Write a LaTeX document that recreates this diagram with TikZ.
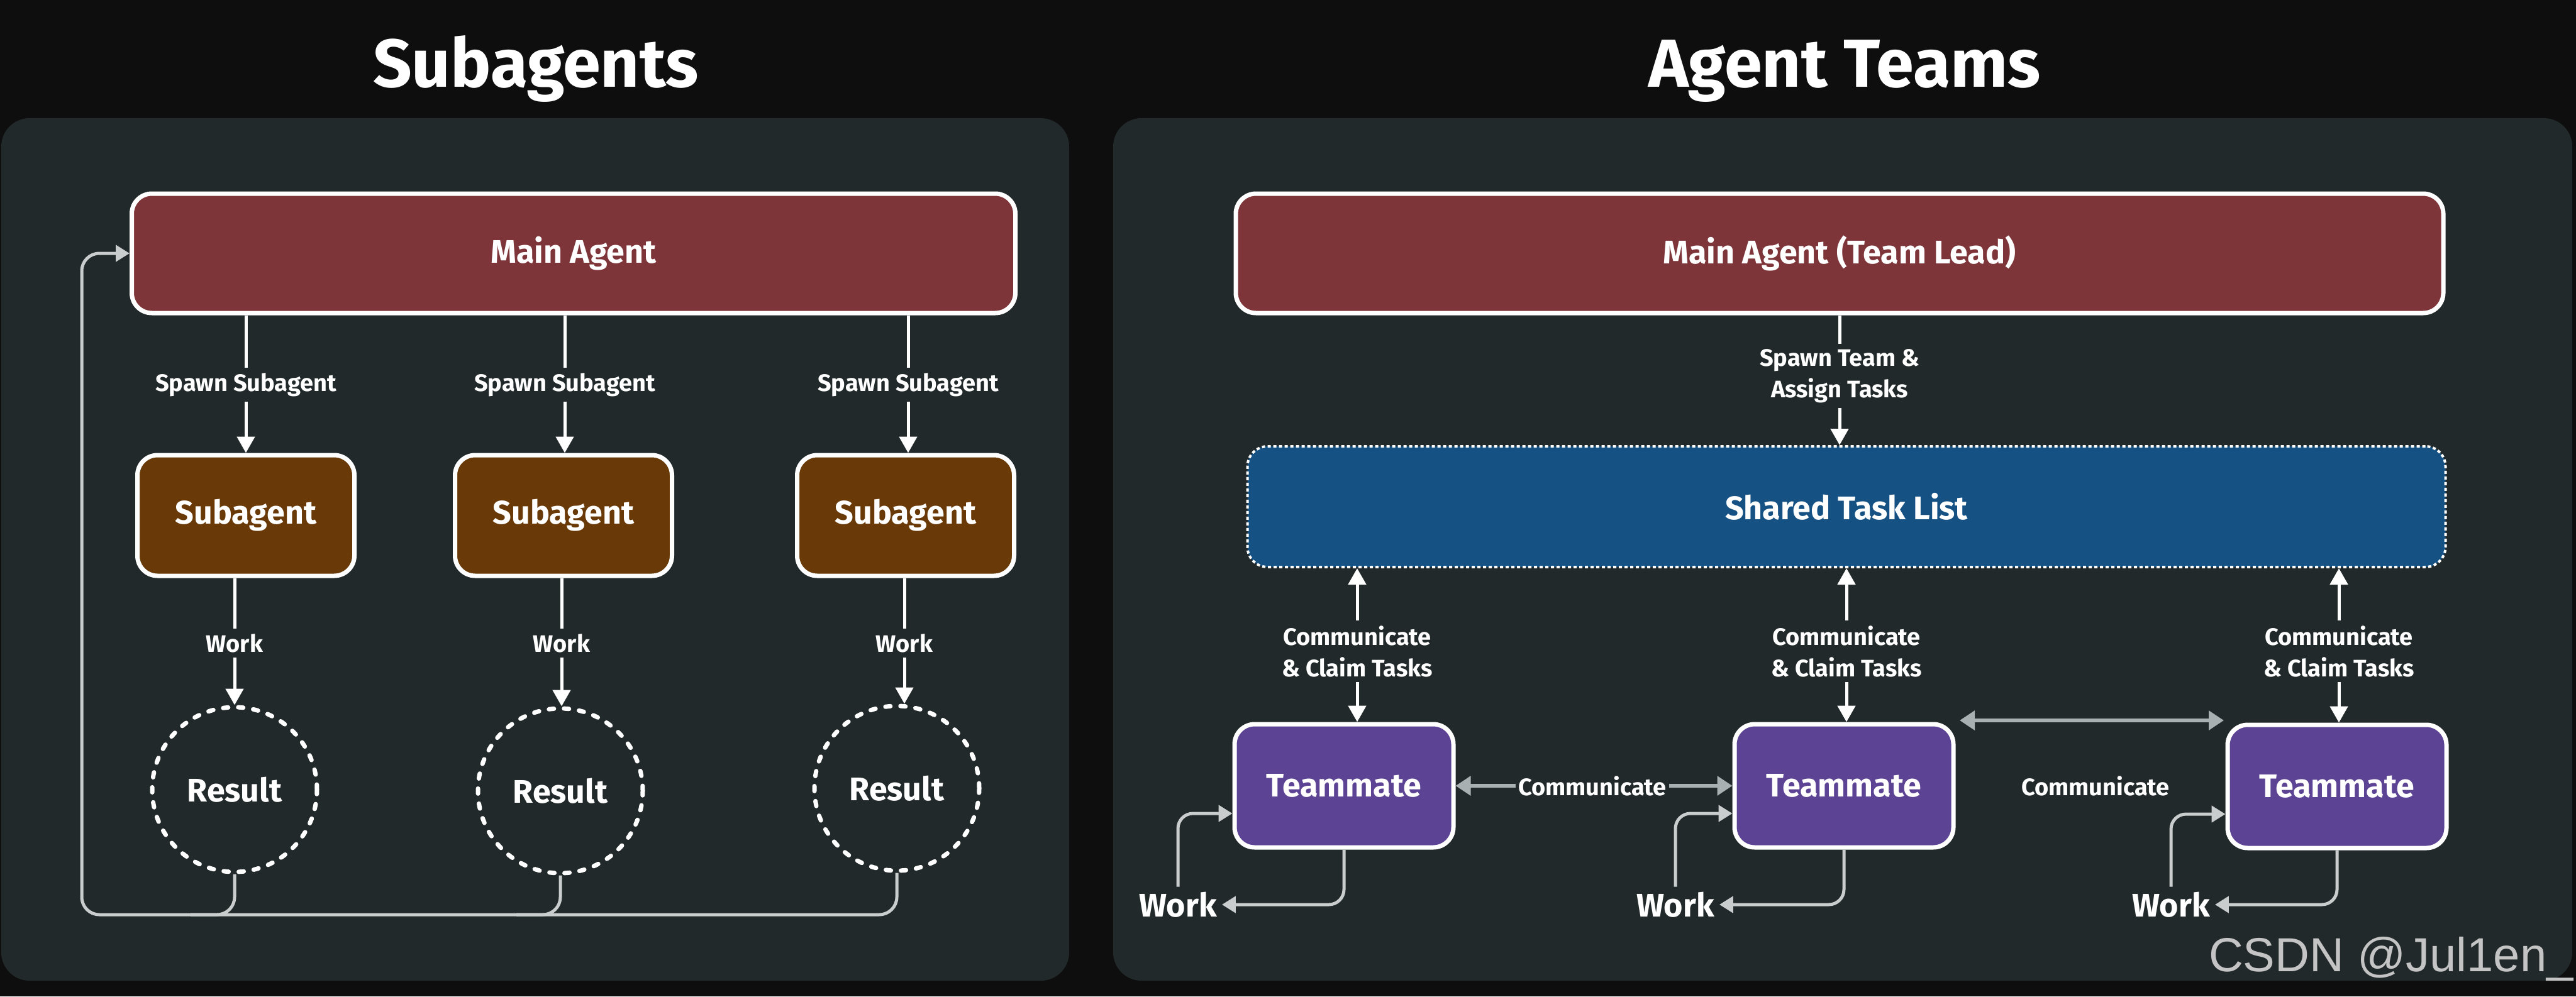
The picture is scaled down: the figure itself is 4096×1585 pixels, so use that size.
\documentclass[tikz,border=0pt]{standalone}
\usepackage{fontspec}
\setmainfont{Fira Sans}
\newfontfamily\wmfont{Liberation Sans}
\usetikzlibrary{arrows.meta,calc}
\definecolor{bgc}{HTML}{0E0E0E}
\definecolor{panelc}{HTML}{22292B}
\definecolor{redc}{HTML}{7E3539}
\definecolor{brownc}{HTML}{693A08}
\definecolor{bluec}{HTML}{155183}
\definecolor{purplec}{HTML}{5C4394}
\definecolor{loopc}{HTML}{C9CDCD}
\definecolor{commc}{HTML}{A8B0B2}
\definecolor{wmc}{HTML}{C4C4C4}
\tikzset{
  box/.style={draw=white, line width=7pt, rounded corners=32pt, text=white,
    font=\fontsize{52}{60}\selectfont\bfseries, inner sep=0pt},
  mainbox/.style={box, fill=redc, minimum height=190pt},
  subbox/.style={box, fill=brownc, minimum width=345pt, minimum height=192pt},
  tmbox/.style={box, fill=purplec, minimum width=348pt, minimum height=196pt},
  sharedbox/.style={box, fill=bluec, line width=4pt, dash pattern=on 5pt off 4pt,
    minimum width=1905pt, minimum height=192pt},
  resnode/.style={circle, draw=white, line width=7pt, line cap=round,
    dash pattern=on 8pt off 16pt, minimum size=262pt, inner sep=0pt, text=white,
    font=\fontsize{52}{60}\selectfont\bfseries},
  lab/.style={text=white, font=\fontsize{38}{50}\selectfont\bfseries, inner sep=8pt, align=center},
  wlab/.style={text=white, font=\fontsize{52}{60}\selectfont\bfseries, inner sep=8pt},
  ttl/.style={text=white, font=\fontsize{108}{120}\selectfont\bfseries, anchor=base, inner sep=0pt},
  conn/.style={draw=white, line width=5pt},
  arr/.style={conn, -{Triangle[length=26pt,width=28pt]}},
  fb/.style={draw=loopc, line width=5pt, rounded corners=28pt},
  gl/.style={draw=loopc, line width=5pt, rounded corners=24pt, -{Triangle[length=22pt,width=26pt]}},
  garr/.style={draw=commc, line width=6pt, -{Triangle[length=24pt,width=30pt]}},
  wm/.style={text=wmc, font=\wmfont\fontsize{76}{80}\selectfont, inner sep=0pt, anchor=base east},
}
\begin{document}
\begin{tikzpicture}[x=1pt,y=-1pt]
\useasboundingbox (0,0) rectangle (4096,1585);
\fill[bgc] (0,0) rectangle (4096,1585);
\fill[panelc, rounded corners=45pt] (2,188) rectangle (1700,1560);
\fill[panelc, rounded corners=45pt] (1770,188) rectangle (4090,1560);

% titles
\node[ttl] (tL) at (852,138) {Subagents};
\node[ttl] (tR) at (2933,138) {Agent Teams};

% ---------- Subagents ----------
\node[mainbox, minimum width=1405pt] (mainL) at (912,403) {Main Agent};
\node[subbox] (s1) at (391,820) {Subagent};
\node[subbox] (s2) at (896,820) {Subagent};
\node[subbox] (s3) at (1440,820) {Subagent};
\node[lab] (sp1) at (391,612) {Spawn Subagent};
\node[lab] (sp2) at (898,612) {Spawn Subagent};
\node[lab] (sp3) at (1444,612) {Spawn Subagent};
\node[resnode] (r1) at (373,1256) {Result};
\node[resnode] (r2) at (891,1258) {Result};
\node[resnode] (r3) at (1426,1254) {Result};
\node[lab] (wk1) at (373,1023) {Work};
\node[lab] (wk2) at (893,1023) {Work};
\node[lab] (wk3) at (1438,1023) {Work};

\foreach \i in {1,2,3}{
  \draw[conn] (mainL.south -| sp\i) -- (sp\i.north);
  \draw[arr] (sp\i.south) -- (sp\i.south |- s\i.north);
  \draw[conn] (s\i.south -| wk\i) -- (wk\i.north);
  \draw[arr] (wk\i.south) -- (wk\i.south |- r\i.north);
}
\coordinate (fbc) at (130,1455);
\coordinate (b1) at (r1.south |- fbc);
\coordinate (b2) at (r2.south |- fbc);
\draw[fb, -{Triangle[length=22pt,width=26pt]}] (r3.south) |- (fbc) |- (mainL.west);
\draw[fb] (r1.south) |- ($(b1)+(-70,0)$);
\draw[fb] (r2.south) |- ($(b2)+(-70,0)$);

% ---------- Agent Teams ----------
\node[mainbox, minimum width=1920pt] (mainR) at (2925,403) {Main Agent (Team Lead)};
\node[sharedbox] (shared) at (2936,806) {Shared Task List};
\node[lab] (spT) at (2925,598) {Spawn Team \&\\Assign Tasks};
\draw[conn] (mainR.south -| spT) -- (spT.north);
\draw[arr] (spT.south) -- (spT.south |- shared.north);

\node[tmbox] (t1) at (2137,1250) {Teammate};
\node[tmbox] (t2) at (2932,1250) {Teammate};
\node[tmbox] (t3) at (3716,1251) {Teammate};
\node[lab] (cl1) at (2158,1036) {Communicate\\\& Claim Tasks};
\node[lab] (cl2) at (2936,1036) {Communicate\\\& Claim Tasks};
\node[lab] (cl3) at (3719,1036) {Communicate\\\& Claim Tasks};
\foreach \i in {1,2,3}{
  \draw[arr] (cl\i.north) -- (cl\i.north |- shared.south);
  \draw[arr] (cl\i.south) -- (cl\i.south |- t\i.north);
}

\node[lab, inner sep=4pt] (cm1) at (2532,1250) {Communicate};
\draw[garr] (cm1.west) -- (t1.east);
\draw[garr] (cm1.east) -- (t2.west);
\node[lab] (cm2) at (3332,1250) {Communicate};
\coordinate (a23) at (3116,1146);
\coordinate (b23) at (3536,1146);
\draw[garr, {Triangle[length=24pt,width=30pt]}-{Triangle[length=24pt,width=30pt]}] (a23) -- (b23);

\node[wlab] (w1) at (1873,1439) {Work};
\node[wlab] (w2) at (2664,1439) {Work};
\node[wlab] (w3) at (3452,1439) {Work};
\foreach \i in {1,2,3}{
  \coordinate (tin\i) at ($(t\i.west)+(0,44)$);
  \draw[gl] (t\i.south) |- (w\i.east);
  \draw[gl] (w\i.north) |- (tin\i);
}

\node[wm] (wmk) at (4092,1545) {CSDN @Jul1en\_};
\end{tikzpicture}
\end{document}
